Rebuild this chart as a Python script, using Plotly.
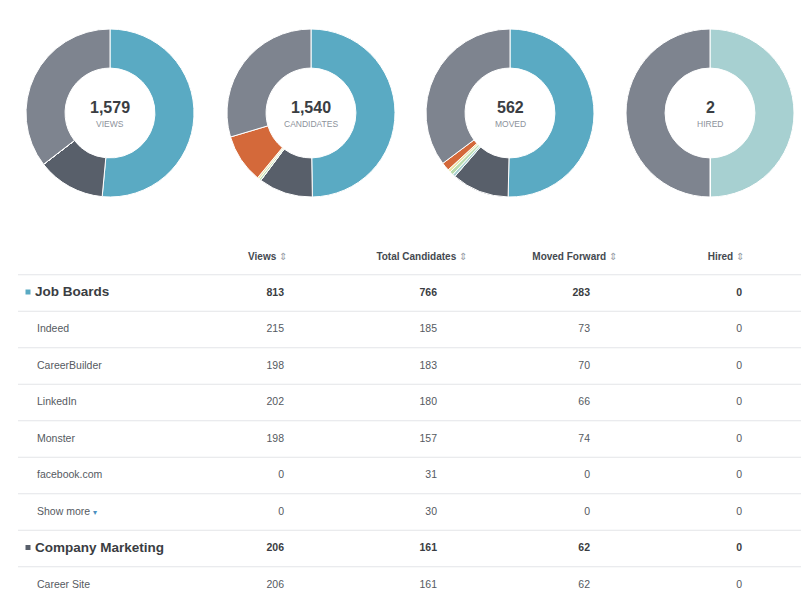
import plotly.graph_objects as go

W, H = 811, 602
OFF = 8  # page body margin: figure starts 8px in from the window edge

# donut data
donut_totals = ["1,579", "1,540", "562", "2"]
donut_labels = ["VIEWS", "CANDIDATES", "MOVED", "HIRED"]
slice_names = ["Job Boards", "Company Marketing", "Agency", "Referral", "Social", "Prospecting", "Other"]
slice_colors = ["#5aaac3", "#585f6a", "#a7d0d1", "#b9dcae", "#ece4a6", "#d4693a", "#7e848f"]
views_vals = [813, 206, 0, 0, 0, 0, 560]
cand_vals = [766, 161, 0, 6, 6, 145, 456]
moved_vals = [283, 62, 3, 4, 3, 9, 198]
hired_vals = [0, 0, 1, 0, 0, 0, 1]
donut_cx = [110, 311, 510, 710]

# table data
headers = ["Views", "Total Candidates", "Moved Forward", "Hired"]
row_names = ["Job Boards", "Indeed", "CareerBuilder", "LinkedIn", "Monster",
             "facebook.com", "Show more", "Company Marketing", "Career Site"]
is_group = [True, False, False, False, False, False, False, True, False]
group_colors = {0: "#5aaac3", 7: "#585f6a"}
col_views = [813, 215, 198, 202, 198, 0, 0, 206, 206]
col_cands = [766, 185, 183, 180, 157, 31, 30, 161, 161]
col_moved = [283, 73, 70, 66, 74, 0, 0, 62, 62]
col_hired = [0, 0, 0, 0, 0, 0, 0, 0, 0]

FONT = "Liberation Sans, Arial, sans-serif"
FW, FH = W - OFF, H - OFF
fig = go.Figure()

r = 84
for i, vals in enumerate([views_vals, cand_vals, moved_vals, hired_vals]):
    cx, cy = donut_cx[i], 113
    fig.add_trace(go.Pie(
        labels=slice_names, values=vals, hole=0.535, sort=False,
        direction="clockwise", rotation=0, textinfo="none",
        marker=dict(colors=slice_colors, line=dict(color="white", width=1)),
        domain=dict(x=[(cx - r - OFF) / FW, (cx + r - OFF) / FW],
                    y=[1 - (cy + r - OFF) / FH, 1 - (cy - r - OFF) / FH]),
        showlegend=False, hoverinfo="label+value",
    ))
    fig.add_annotation(x=cx, y=107, xref="x", yref="y", text="<b>%s</b>" % donut_totals[i],
                       showarrow=False, font=dict(size=16, color="#3a3d42", family=FONT))
    fig.add_annotation(x=cx, y=124, xref="x", yref="y", text=donut_labels[i],
                       showarrow=False, font=dict(size=8.5, color="#8c929b", family=FONT))

# table layout
header_y = 257
row0_y = 293
row_h = 36.5
hdr_right = [287, 467, 617, 744]
num_right = [284, 437, 590, 742]

fig.add_trace(go.Scatter(
    x=hdr_right, y=[header_y] * 4, mode="text",
    text=["<b>%s</b> <span style='color:#9aa0a8'>⇕</span>" % h for h in headers],
    textposition="middle left", textfont=dict(size=10, color="#444950", family=FONT),
    hoverinfo="skip", showlegend=False,
))

ys = [row0_y + k * row_h for k in range(len(row_names))]
names_txt = []
for k, n in enumerate(row_names):
    if is_group[k]:
        names_txt.append("<b>%s</b>" % n)
    elif n == "Show more":
        names_txt.append(n + " <span style='color:#4a8fc0;font-size:8px'>▾</span>")
    else:
        names_txt.append(n)
name_x = [35 if g else 37 for g in is_group]
name_sizes = [13.5 if g else 10.5 for g in is_group]
name_colors = ["#3a3d42" if g else "#555a61" for g in is_group]
fig.add_trace(go.Scatter(
    x=name_x, y=ys, mode="text", text=names_txt, textposition="middle right",
    textfont=dict(size=name_sizes, color=name_colors, family=FONT),
    hoverinfo="skip", showlegend=False,
))

# group markers
gk = [k for k in range(len(row_names)) if is_group[k]]
fig.add_trace(go.Scatter(
    x=[28] * len(gk), y=[ys[k] - 1 for k in gk], mode="markers",
    marker=dict(symbol="square", size=5, color=[group_colors[k] for k in gk]),
    hoverinfo="skip", showlegend=False,
))

for c, col in enumerate([col_views, col_cands, col_moved, col_hired]):
    txt = ["<b>%d</b>" % v if is_group[k] else "%d" % v for k, v in enumerate(col)]
    fig.add_trace(go.Scatter(
        x=[num_right[c]] * len(col), y=ys, mode="text", text=txt,
        textposition="middle left",
        textfont=dict(size=10.5, color=["#3a3d42" if g else "#555a61" for g in is_group], family=FONT),
        hoverinfo="skip", showlegend=False,
    ))

# row separators
for k in range(len(row_names)):
    yl = ys[k] - row_h / 2
    fig.add_shape(type="line", xref="x", yref="y", x0=18, x1=801, y0=yl, y1=yl,
                  line=dict(color="#e3e5e8", width=1))

fig.update_layout(
    width=FW, height=FH, margin=dict(l=0, r=0, t=0, b=0),
    paper_bgcolor="white", plot_bgcolor="rgba(0,0,0,0)",
    xaxis=dict(range=[OFF, W], visible=False, fixedrange=True),
    yaxis=dict(range=[H, OFF], visible=False, fixedrange=True),
)

fig.write_html("out.html")
